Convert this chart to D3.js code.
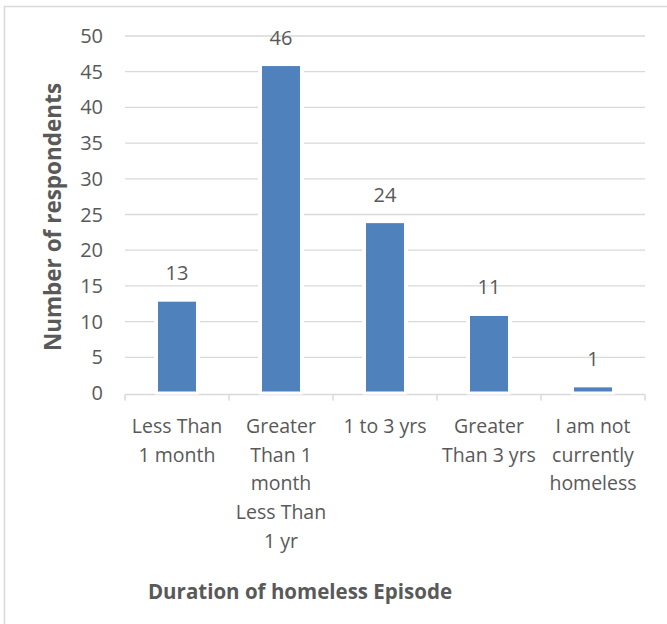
<!DOCTYPE html>
<html>
<head>
<meta charset="utf-8">
<script src="https://cdn.jsdelivr.net/npm/d3@7"></script>
<style>
    body { margin: 0; background: #fff; }
    text { font-family: "Open Sans", sans-serif; fill: #595959; }
</style>
</head>
<body>
<div id="chart"></div>
<script>
const WIDTH = 667;
const HEIGHT = 624;

const categories = ["Less Than 1 month", "Greater Than 1 month Less Than 1 yr", "1 to 3 yrs", "Greater Than 3 yrs", "I am not currently homeless"];
// tick labels wrapped as in the picture
const categoryLines = [
    ["Less Than", "1 month"],
    ["Greater", "Than 1", "month", "Less Than", "1 yr"],
    ["1 to 3 yrs"],
    ["Greater", "Than 3 yrs"],
    ["I am not", "currently", "homeless"]
];
const respondents = [13, 46, 24, 11, 1];
const yTicks = [0, 5, 10, 15, 20, 25, 30, 35, 40, 45, 50];

const margin = {left: 125, right: 22, top: 36, bottom: 231};

const svg = d3.select("#chart").append("svg")
    .attr("width", WIDTH)
    .attr("height", HEIGHT);

// outer chart border (only top and left show in the frame)
svg.append("rect")
    .attr("x", 4.5).attr("y", 6.5)
    .attr("width", WIDTH + 10).attr("height", HEIGHT + 10)
    .attr("fill", "none")
    .attr("stroke", "#d9d9d9")
    .attr("stroke-width", 1.5);

const x = d3.scaleBand()
    .domain(categories)
    .range([margin.left, WIDTH - margin.right])
    .paddingInner(0.606)
    .paddingOuter(0.303);

const y = d3.scaleLinear()
    .domain([0, 50])
    .range([393, margin.top]);

// gridlines
svg.append("g")
    .selectAll("line")
    .data(yTicks.filter(d => d > 0))
    .join("line")
        .attr("x1", margin.left)
        .attr("x2", WIDTH - margin.right)
        .attr("y1", d => y(d))
        .attr("y2", d => y(d))
        .attr("stroke", "#d9d9d9")
        .attr("stroke-width", 1.3);

// y tick labels
svg.append("g")
    .selectAll("text")
    .data(yTicks)
    .join("text")
        .attr("x", 103)
        .attr("y", d => y(d))
        .attr("dy", "0.35em")
        .attr("text-anchor", "end")
        .style("font-size", "20px")
        .text(d => d);

// x axis line and category boundary ticks
const axisY = y(0) + 1.5;
svg.append("line")
    .attr("x1", margin.left).attr("x2", WIDTH - margin.right)
    .attr("y1", axisY).attr("y2", axisY)
    .attr("stroke", "#d9d9d9")
    .attr("stroke-width", 1.5);

const step = x.step();
svg.append("g")
    .selectAll("line")
    .data(d3.range(categories.length + 1))
    .join("line")
        .attr("x1", i => margin.left + i * step)
        .attr("x2", i => margin.left + i * step)
        .attr("y1", axisY)
        .attr("y2", axisY + 6)
        .attr("stroke", "#d9d9d9")
        .attr("stroke-width", 1.5);

// bars: white halo breaks the gridlines, then the bar itself
const bars = svg.append("g")
    .selectAll("g")
    .data(respondents)
    .join("g");

bars.append("rect")
    .attr("x", (d, i) => x(categories[i]) - 2.5)
    .attr("width", x.bandwidth() + 5)
    .attr("y", d => y(d) - 2)
    .attr("height", d => y(0) - y(d) + 2)
    .attr("fill", "#fff");

bars.append("rect")
    .attr("x", (d, i) => x(categories[i]))
    .attr("width", x.bandwidth())
    .attr("y", d => y(d))
    .attr("height", d => y(0) - y(d))
    .attr("fill", "#4f81bd")
    .attr("stroke", "#fff")
    .attr("stroke-width", 3);

// data labels
bars.append("text")
    .attr("x", (d, i) => x(categories[i]) + x.bandwidth() / 2)
    .attr("y", d => y(d) - 20)
    .attr("text-anchor", "middle")
    .style("font-size", "20px")
    .text(d => d);

// category labels
svg.append("g")
    .selectAll("text")
    .data(categoryLines)
    .join("text")
        .attr("x", (d, i) => x(categories[i]) + x.bandwidth() / 2)
        .attr("y", 433)
        .attr("text-anchor", "middle")
        .style("font-size", "19.5px")
        .selectAll("tspan")
        .data(d => d)
        .join("tspan")
            .attr("x", function () { return this.parentNode.getAttribute("x"); })
            .attr("dy", (d, i) => i === 0 ? 0 : 28.7)
            .text(d => d);

// axis titles
svg.append("text")
    .attr("x", 300)
    .attr("y", 599)
    .attr("text-anchor", "middle")
    .style("font-size", "20.5px")
    .style("font-weight", "bold")
    .text("Duration of homeless Episode");

svg.append("text")
    .attr("transform", "translate(61,217) rotate(-90)")
    .attr("text-anchor", "middle")
    .style("font-size", "22.5px")
    .style("font-weight", "bold")
    .text("Number of respondents");
</script>
</body>
</html>
